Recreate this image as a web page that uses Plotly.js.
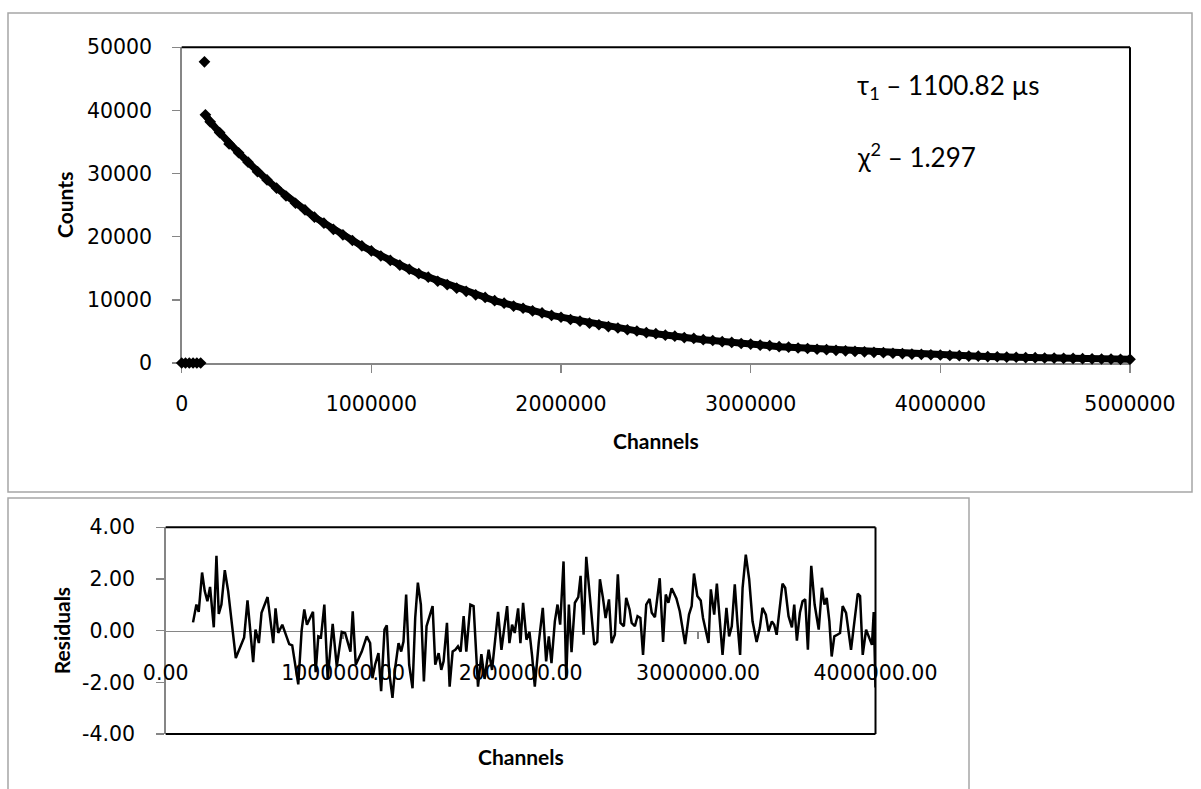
<!DOCTYPE html>
<html>
<head>
<meta charset="utf-8">
<script src="https://cdn.plot.ly/plotly-3.0.1.min.js"></script>
<style>html,body{margin:0;padding:0;background:#fff;}</style>
</head>
<body>
<div id="chart" style="width:1201px;height:789px;"></div>
<script>
// ---- Top panel: decay counts vs channels ----
const preChannels = [0, 20000, 40000, 60000, 80000, 100000, 120000];
const preCounts   = [0, 0, 0, 0, 0, 0, 47700];

const decayChannels = [125000,150000,200000,250000,300000,350000,400000,450000,500000,550000,
  600000,650000,700000,750000,800000,850000,900000,950000,1000000,1050000,
  1100000,1150000,1200000,1250000,1300000,1350000,1400000,1450000,1500000,1550000,
  1600000,1650000,1700000,1750000,1800000,1850000,1900000,1950000,2000000,2050000,
  2100000,2150000,2200000,2250000,2300000,2350000,2400000,2450000,2500000,2550000,
  2600000,2650000,2700000,2750000,2800000,2850000,2900000,2950000,3000000,3050000,
  3100000,3150000,3200000,3250000,3300000,3350000,3400000,3450000,3500000,3550000,
  3600000,3650000,3700000,3750000,3800000,3850000,3900000,3950000,4000000,4050000,
  4100000,4150000,4200000,4250000,4300000,4350000,4400000,4450000,4500000,4550000,
  4600000,4650000,4700000,4750000,4800000,4850000,4900000,4950000,5000000];
const decayCounts = [39300,38200,36500,34700,33300,31800,30300,29000,27700,26450,
  25300,24250,23100,22150,21150,20300,19400,18550,17750,16950,
  16250,15500,14850,14150,13600,12950,12400,11850,11350,10800,
  10380,9870,9480,9020,8670,8250,7930,7540,7250,6890,
  6630,6300,6060,5760,5540,5270,5070,4820,4640,4410,
  4250,4030,3890,3690,3560,3380,3260,3090,2990,2830,
  2740,2590,2510,2380,2300,2180,2110,2000,1935,1835,
  1775,1685,1630,1545,1500,1420,1380,1305,1270,1200,
  1165,1105,1075,1015,990,935,915,865,845,795,
  780,735,720,680,668,630,620,585,575];

// ---- Bottom panel: residuals vs channels ----
const residChannels = [154000,173000,186000,205000,220000,235000,250000,258000,271000,286000,
  299000,314000,333000,352000,395000,442000,461000,493000,506000,525000,
  540000,574000,606000,619000,634000,657000,672000,696000,713000,747000,
  766000,781000,796000,830000,845000,860000,875000,894000,913000,941000,
  964000,992000,1011000,1041000,1054000,1071000,1105000,1133000,1152000,1165000,
  1180000,1199000,1214000,1233000,1246000,1259000,1278000,1293000,1312000,1327000,
  1340000,1355000,1372000,1391000,1406000,1421000,1438000,1455000,1470000,1504000,
  1519000,1538000,1553000,1566000,1585000,1600000,1617000,1632000,1647000,1662000,
  1679000,1694000,1717000,1735000,1760000,1779000,1797000,1820000,1839000,1873000,
  1892000,1924000,1937000,1952000,1967000,1986000,1999000,2014000,2033000,2050000,
  2065000,2080000,2102000,2125000,2144000,2159000,2174000,2193000,2208000,2223000,
  2242000,2257000,2272000,2287000,2306000,2325000,2338000,2355000,2370000,2389000,
  2415000,2432000,2447000,2464000,2479000,2498000,2513000,2531000,2548000,2563000,
  2582000,2595000,2614000,2626000,2644000,2659000,2675000,2690000,2708000,2727000,
  2739000,2757000,2784000,2803000,2818000,2833000,2851000,2878000,2897000,2927000,
  2949000,2964000,2977000,2996000,3015000,3028000,3059000,3072000,3091000,3106000,
  3123000,3138000,3160000,3175000,3190000,3207000,3222000,3237000,3251000,3269000,
  3288000,3307000,3330000,3348000,3363000,3382000,3397000,3416000,3429000,3443000,
  3458000,3476000,3491000,3510000,3529000,3542000,3557000,3574000,3589000,3604000,
  3619000,3638000,3657000,3680000,3698000,3712000,3725000,3740000,3753000,3768000,
  3787000,3800000,3815000,3834000,3862000,3881000,3900000,3913000,3928000,3947000,
  3966000,3980000,3990000,4000000];
const residuals = [0.32,1.01,0.73,2.25,1.53,1.14,1.69,1.14,0.13,2.90,
  0.65,1.01,2.34,1.53,-1.06,-0.26,1.17,-1.22,0.04,-0.48,
  0.69,1.30,-0.48,0.86,-0.09,0.23,-0.05,-0.52,-0.57,-2.08,
  0.00,0.82,0.23,0.73,-1.61,-0.22,-0.26,1.01,-1.87,0.26,
  -1.39,-0.05,-0.09,-0.81,0.75,-1.32,-0.81,-0.22,-0.48,-1.84,
  -1.32,-0.87,-2.34,0.04,0.21,-1.58,-2.60,-1.45,-0.48,-0.81,
  -0.42,1.40,-1.32,-2.23,0.49,1.86,1.01,-1.97,0.17,0.95,
  -1.32,-0.87,-1.52,-1.19,0.30,-2.17,-0.81,-0.74,-0.61,-0.81,
  0.56,-0.81,1.01,0.95,-2.17,-0.91,-1.87,-0.74,-1.52,0.73,
  -0.74,0.95,-0.48,0.23,-0.09,0.86,-0.48,1.08,-0.35,-0.05,
  -1.00,-2.17,-0.48,0.88,-1.19,-0.22,-1.26,0.36,1.01,0.23,
  2.68,-1.84,1.01,-0.83,1.08,1.30,2.12,-0.16,2.86,1.27,
  -0.55,-0.44,1.99,1.27,0.49,1.21,-0.48,-0.16,2.18,0.30,
  0.17,1.27,0.82,0.30,0.17,0.56,0.49,-0.94,1.01,1.23,
  0.69,0.52,2.03,-0.44,1.40,1.08,1.64,1.25,0.75,-0.52,
  0.62,0.95,2.21,1.34,1.17,0.49,-0.48,1.60,0.62,1.82,
  0.17,-0.94,0.88,-0.22,0.17,1.79,0.30,-0.94,1.66,2.94,
  1.99,0.36,-0.44,0.10,0.88,0.62,-0.03,0.36,0.23,-0.16,
  0.75,1.82,1.66,0.56,0.13,1.01,-0.39,0.69,1.14,1.21,
  -0.74,2.51,1.01,0.04,1.66,1.01,1.27,0.36,-1.00,-0.22,
  -0.15,-0.09,0.95,0.69,-0.74,0.43,1.43,1.34,-0.94,0.04,
  -0.29,-0.55,0.72,-2.20];

const residTickVals = [-4, -2, 0, 2, 4];
const residTickText = ['-4.00', '-2.00', '0.00', '2.00', '4.00'];

const tauLabel = 'τ<sub>1</sub> – 1100.82 µs';
const chiLabel = 'χ<sup>2</sup> – 1.297';

const AXIS_GRAY = '#868686';
const FRAME_GRAY = '#A6A6A6';
const TITLE_FONT = {family: 'Lato, "Open Sans", sans-serif', size: 21, color: '#000', weight: 700};
const NOTE_FONT = {family: 'Lato, "Open Sans", sans-serif', size: 26, color: '#000'};

const traces = [
  {x: preChannels, y: preCounts, type: 'scatter', mode: 'markers', cliponaxis: false,
   marker: {symbol: 'diamond', size: 9, color: '#000'}, xaxis: 'x', yaxis: 'y'},
  {x: decayChannels, y: decayCounts, type: 'scatter', mode: 'lines+markers', cliponaxis: false,
   line: {color: '#000', width: 7}, marker: {symbol: 'diamond', size: 9, color: '#000'},
   xaxis: 'x', yaxis: 'y'},
  {x: residChannels, y: residuals, type: 'scatter', mode: 'lines', cliponaxis: false,
   line: {color: '#000', width: 2.5}, xaxis: 'x2', yaxis: 'y2'}
];

const layout = {
  width: 1201, height: 789,
  margin: {l: 0, r: 0, t: 0, b: 0},
  paper_bgcolor: '#fff', plot_bgcolor: 'rgba(0,0,0,0)',
  showlegend: false,
  font: {family: '"DejaVu Sans", sans-serif', size: 20.5, color: '#000'},
  xaxis: {
    domain: [0.15129, 0.94088], anchor: 'y', range: [0, 5000000], dtick: 1000000, tick0: 0,
    tickformat: 'd', showgrid: false, zeroline: false, showline: true, linecolor: AXIS_GRAY, linewidth: 1.5,
    ticks: 'outside', ticklen: 8, tickcolor: AXIS_GRAY, tickwidth: 1.5, ticklabelstandoff: 14,
    layer: 'below traces', fixedrange: true
  },
  yaxis: {
    domain: [0.53992, 0.94005], anchor: 'x', range: [0, 50000], dtick: 10000, tick0: 0,
    tickformat: 'd', showgrid: false, zeroline: false, showline: true, linecolor: AXIS_GRAY, linewidth: 1.5,
    ticks: 'outside', ticklen: 8, tickcolor: AXIS_GRAY, tickwidth: 1.5, ticklabelstandoff: 16,
    layer: 'below traces', fixedrange: true
  },
  xaxis2: {
    domain: [0.13797, 0.72898], anchor: 'free', position: 0.200695, range: [0, 4000000],
    dtick: 1000000, tick0: 0, tickformat: '.2f', showgrid: false, zeroline: false,
    showline: true, linecolor: AXIS_GRAY, linewidth: 1.5,
    ticks: 'outside', ticklen: 7, tickcolor: AXIS_GRAY, tickwidth: 1.5, ticklabelstandoff: 16,
    layer: 'below traces', fixedrange: true
  },
  yaxis2: {
    domain: [0.06971, 0.33168], anchor: 'x2', range: [-4, 4],
    tickvals: residTickVals, ticktext: residTickText, showgrid: false, zeroline: false,
    showline: true, linecolor: AXIS_GRAY, linewidth: 1.5,
    ticks: 'outside', ticklen: 8, tickcolor: AXIS_GRAY, tickwidth: 1.5, ticklabelstandoff: 17,
    layer: 'below traces', fixedrange: true
  },
  shapes: [
    {type: 'rect', xref: 'paper', yref: 'paper', x0: 0.00666, x1: 0.99251, y0: 0.37643, y1: 0.98352,
     line: {color: FRAME_GRAY, width: 1.5}, layer: 'below'},
    {type: 'rect', xref: 'paper', yref: 'paper', x0: 0.00666, x1: 0.80683, y0: -0.01, y1: 0.36882,
     line: {color: FRAME_GRAY, width: 1.5}, layer: 'below'},
    {type: 'line', xref: 'x domain', yref: 'y domain', x0: 0, x1: 1, y0: 1, y1: 1, line: {color: '#000', width: 2}},
    {type: 'line', xref: 'x domain', yref: 'y domain', x0: 1, x1: 1, y0: 0, y1: 1, line: {color: '#000', width: 2}},
    {type: 'line', xref: 'x2 domain', yref: 'y2 domain', x0: 0, x1: 1, y0: 1, y1: 1, line: {color: '#000', width: 2}},
    {type: 'line', xref: 'x2 domain', yref: 'y2 domain', x0: 0, x1: 1, y0: 0, y1: 0, line: {color: '#000', width: 2}},
    {type: 'line', xref: 'x2 domain', yref: 'y2 domain', x0: 1, x1: 1, y0: 0, y1: 1, line: {color: '#000', width: 2}}
  ],
  annotations: [
    {text: 'Counts', xref: 'paper', yref: 'paper', x: 0.0541, y: 0.7402, textangle: -90,
     showarrow: false, font: TITLE_FONT, xanchor: 'center', yanchor: 'middle'},
    {text: 'Channels', xref: 'paper', yref: 'paper', x: 0.5462, y: 0.4423,
     showarrow: false, font: TITLE_FONT, xanchor: 'center', yanchor: 'middle'},
    {text: 'Residuals', xref: 'paper', yref: 'paper', x: 0.05137, y: 0.2007, textangle: -90,
     showarrow: false, font: TITLE_FONT, xanchor: 'center', yanchor: 'middle'},
    {text: 'Channels', xref: 'paper', yref: 'paper', x: 0.4335, y: 0.0410,
     showarrow: false, font: TITLE_FONT, xanchor: 'center', yanchor: 'middle'},
    {text: tauLabel, xref: 'paper', yref: 'paper', x: 0.7119, y: 0.8901,
     showarrow: false, font: NOTE_FONT, xanchor: 'left', yanchor: 'middle'},
    {text: chiLabel, xref: 'paper', yref: 'paper', x: 0.7119, y: 0.8035,
     showarrow: false, font: NOTE_FONT, xanchor: 'left', yanchor: 'middle'}
  ]
};

Plotly.newPlot('chart', traces, layout, {displayModeBar: false, staticPlot: true});
</script>
</body>
</html>
